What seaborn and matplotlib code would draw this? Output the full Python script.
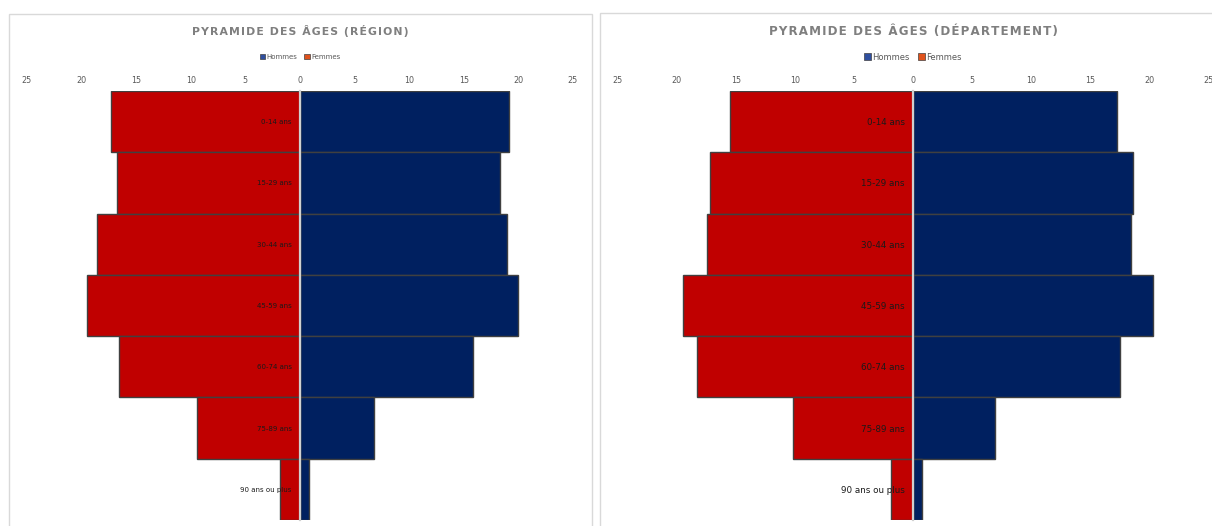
import matplotlib
matplotlib.use("Agg")
import matplotlib.pyplot as plt
from matplotlib.patches import Rectangle, Patch
import seaborn as sns
import pandas as pd

categories = ["0-14 ans", "15-29 ans", "30-44 ans", "45-59 ans", "60-74 ans", "75-89 ans", "90 ans ou plus"]
region_hommes = [19.1, 18.3, 19.0, 20.0, 15.8, 6.8, 0.8]
region_femmes = [17.3, 16.8, 18.6, 19.5, 16.6, 9.4, 1.8]
dept_hommes = [17.2, 18.6, 18.4, 20.3, 17.5, 6.9, 0.7]
dept_femmes = [15.5, 17.2, 17.4, 19.5, 18.3, 10.2, 1.9]
xticks = [-25, -20, -15, -10, -5, 0, 5, 10, 15, 20, 25]
titles = ["PYRAMIDE DES ÂGES (RÉGION)", "PYRAMIDE DES ÂGES (DÉPARTEMENT)"]
series_names = ["Hommes", "Femmes"]

sns.set_theme(style="white")
plt.rcParams['font.family'] = ['DejaVu Sans']

W, H = 1212, 526
fig = plt.figure(figsize=(W / 100, H / 100), dpi=100)

def fx(px):
    return px / W

def fy(py):
    return 1 - py / H

palette = {"Hommes": "#002060", "Femmes": "#C00000"}
legend_colors = {"Hommes": "#2F4F9F", "Femmes": "#E0521C"}

panels = [
    dict(box=(9, 14, 592, 540), ax=(27, 91, 573, 520), data=(region_hommes, region_femmes),
         title_size=7.8, tick_size=5.8, cat_size=5.0, leg_size=5.0),
    dict(box=(600, 13, 1230, 540), ax=(617.5, 91, 1209, 520), data=(dept_hommes, dept_femmes),
         title_size=8.6, tick_size=5.8, cat_size=6.3, leg_size=6.0),
]

def spaced(s):
    return "\u200a".join(s)

for i, p in enumerate(panels):
    bx0, by0, bx1, by1 = p["box"]
    fig.patches.append(Rectangle((fx(bx0), fy(by1)), fx(bx1 - bx0), (by1 - by0) / H,
                                 transform=fig.transFigure, fill=False,
                                 edgecolor="#D9D9D9", lw=1.0, zorder=0))
    ax0, ay0, ax1, ay1 = p["ax"]
    ax = fig.add_axes([fx(ax0), fy(ay1), fx(ax1 - ax0), (ay1 - ay0) / H])
    hommes, femmes = p["data"]
    df = pd.DataFrame({
        "cat": categories * 2,
        "val": list(hommes) + [-v for v in femmes],
        "sexe": ["Hommes"] * len(categories) + ["Femmes"] * len(categories),
    })
    sns.barplot(data=df, x="val", y="cat", hue="sexe", order=categories,
                hue_order=series_names, palette=palette, saturation=1, dodge=False, width=1.0,
                orient="h", edgecolor="#404040", linewidth=1.0, legend=False, ax=ax)
    ax.set_axisbelow(False)
    ax.set_xlim(-25, 25)
    ax.set_ylim(len(categories) - 0.5, -0.5)
    ax.set_xlabel("")
    ax.set_ylabel("")
    ax.xaxis.tick_top()
    ax.set_xticks(xticks)
    ax.set_xticklabels([str(abs(t)) for t in xticks])
    ax.tick_params(axis="x", length=0, pad=4.5, labelsize=p["tick_size"], labelcolor="#595959")
    ax.tick_params(axis="y", length=0, pad=6, labelsize=p["cat_size"], labelcolor="#1A1A1A")
    for s in ["top", "right", "bottom"]:
        ax.spines[s].set_visible(False)
    ax.spines["left"].set_position(("data", 0))
    ax.spines["left"].set_color("#D0D0D0")
    ax.spines["left"].set_linewidth(1.6)
    ax.spines["left"].set_zorder(5)
    ax.set_facecolor("none")
    ax.grid(False)

    cx = (ax0 + ax1) / 2 if i == 0 else 913
    fig.text(fx(cx), fy(31), spaced(titles[i]), ha="center", va="center",
             fontsize=p["title_size"], fontweight="bold", color="#7F7F7F")
    handles = [Patch(facecolor=legend_colors[n], edgecolor="#404040", linewidth=0.5, label=n)
               for n in series_names]
    fig.legend(handles=handles, loc="center", bbox_to_anchor=(fx(cx), fy(57)),
               ncol=2, frameon=False, fontsize=p["leg_size"], handlelength=0.8,
               handleheight=0.8, handletextpad=0.2, columnspacing=1.0,
               labelcolor="#595959")

fig.savefig("out.png", dpi=100, facecolor="white")
